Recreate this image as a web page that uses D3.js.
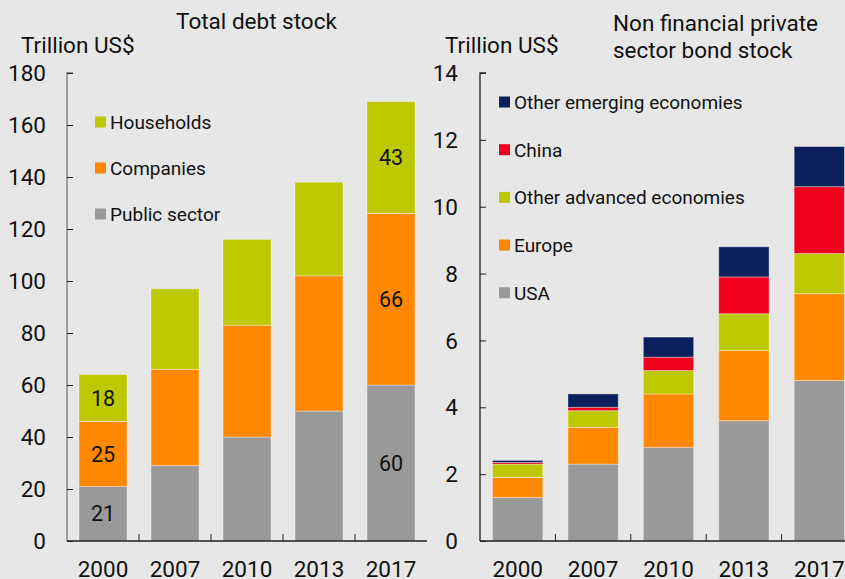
<!DOCTYPE html>
<html>
<head>
<meta charset="utf-8">
<script src="https://cdn.jsdelivr.net/npm/d3@7"></script>
<style>
  html, body { margin: 0; padding: 0; background: #e7e7e7; }
  svg { display: block; font-family: Roboto, "Noto Sans", sans-serif; }
</style>
</head>
<body>
<svg id="chart" width="845" height="579"></svg>
<script>
// ---- data ----
const years = ['2000', '2007', '2010', '2013', '2017'];

// Total debt stock (trillion US$)
const debtKeys = ['Public sector', 'Companies', 'Households'];
const publicSector = [21, 29, 40, 50, 60];
const companies = [25, 37, 43, 52, 66];
const households = [18, 31, 33, 36, 43];
const debtTicks = [0, 20, 40, 60, 80, 100, 120, 140, 160, 180];
const debtLabelled = ['2000', '2017'];

// Non financial private sector bond stock (trillion US$)
const bondKeys = ['USA', 'Europe', 'Other advanced economies', 'China', 'Other emerging economies'];
const usa = [1.3, 2.3, 2.8, 3.6, 4.8];
const europe = [0.6, 1.1, 1.6, 2.1, 2.6];
const otherAdvanced = [0.4, 0.5, 0.7, 1.1, 1.2];
const china = [0.05, 0.1, 0.4, 1.1, 2.0];
const otherEmerging = [0.06, 0.4, 0.6, 0.9, 1.2];
const bondTicks = [0, 2, 4, 6, 8, 10, 12, 14];

const colors = {
  'Public sector': '#999999',
  'USA': '#999999',
  'Companies': '#ff8800',
  'Europe': '#ff8800',
  'Households': '#bec800',
  'Other advanced economies': '#bec800',
  'China': '#f0001c',
  'Other emerging economies': '#0a1f5c'
};

const svg = d3.select('#chart');
const yTop = 73, yBottom = 541;
const tickFont = 22.5;

function drawPanel(opts) {
  const { rows, keys, ticks, max, x0, x1, axisColor, labelRight, legend, labelled } = opts;
  const g = svg.append('g');
  const x = d3.scaleBand().domain(years).range([x0, x1]).paddingInner(1 / 3).paddingOuter(1 / 6);
  const y = d3.scaleLinear().domain([0, max]).range([yBottom, yTop]);
  const series = d3.stack().keys(keys)(rows);

  series.forEach((s) => {
    g.append('g')
      .selectAll('rect')
      .data(s)
      .enter()
      .append('rect')
      .attr('x', (d) => x(d.data.year))
      .attr('y', (d) => y(d[1]))
      .attr('width', x.bandwidth())
      .attr('height', (d) => y(d[0]) - y(d[1]))
      .attr('fill', colors[s.key])
      .attr('stroke', 'rgba(255,255,255,0.35)')
      .attr('stroke-width', 1);

    if (labelled) {
      g.append('g')
        .selectAll('text')
        .data(s.filter((d) => labelled.includes(d.data.year)))
        .enter()
        .append('text')
        .attr('x', (d) => x(d.data.year) + x.bandwidth() / 2)
        .attr('y', (d) => (y(d[0]) + y(d[1])) / 2)
        .attr('dy', '0.36em')
        .attr('text-anchor', 'middle')
        .attr('font-size', 21.5)
        .attr('fill', '#111')
        .text((d) => d3.format('d')(d[1] - d[0]));
    }
  });

  // y axis: line plus inward ticks, labels on the left
  const yAxis = g.append('g').attr('transform', `translate(${x0},0)`)
    .call(d3.axisRight(y).tickValues(ticks).tickSize(6).tickFormat(''));
  yAxis.select('.domain').attr('stroke', axisColor).attr('stroke-width', 1.3).attr('d', `M6,${yTop}H0V${yBottom}`);
  yAxis.selectAll('.tick line').attr('stroke', '#222');
  g.append('g')
    .selectAll('text')
    .data(ticks)
    .enter()
    .append('text')
    .attr('x', labelRight)
    .attr('y', (d) => y(d))
    .attr('dy', '0.36em')
    .attr('text-anchor', 'end')
    .attr('font-size', tickFont)
    .attr('fill', '#111')
    .text((d) => d);

  // x axis: baseline with inward ticks at band boundaries
  g.append('line')
    .attr('x1', x0).attr('x2', x1)
    .attr('y1', yBottom).attr('y2', yBottom)
    .attr('stroke', '#222').attr('stroke-width', 1.3);
  g.append('g')
    .selectAll('line')
    .data(years.slice(1))
    .enter()
    .append('line')
    .attr('x1', (d) => x(d) - x.step() * x.paddingInner() / 2)
    .attr('x2', (d) => x(d) - x.step() * x.paddingInner() / 2)
    .attr('y1', yBottom).attr('y2', yBottom - 7)
    .attr('stroke', '#222');
  g.append('g')
    .selectAll('text')
    .data(years)
    .enter()
    .append('text')
    .attr('x', (d) => x(d) + x.bandwidth() / 2)
    .attr('y', 577)
    .attr('text-anchor', 'middle')
    .attr('font-size', tickFont)
    .attr('fill', '#111')
    .text((d) => d);

  // legend
  const lg = g.append('g');
  legend.items.forEach((key, i) => {
    const cy = legend.y + i * legend.step;
    lg.append('rect')
      .attr('x', legend.x).attr('y', cy - 5.5)
      .attr('width', 11).attr('height', 11)
      .attr('fill', colors[key]);
    lg.append('text')
      .attr('x', legend.x + 15).attr('y', cy)
      .attr('dy', '0.36em')
      .attr('font-size', 19)
      .attr('fill', '#111')
      .text(key);
  });
}

const debtRows = years.map((year, i) => ({
  year,
  'Public sector': publicSector[i],
  'Companies': companies[i],
  'Households': households[i]
}));
const bondRows = years.map((year, i) => ({
  year,
  'USA': usa[i],
  'Europe': europe[i],
  'Other advanced economies': otherAdvanced[i],
  'China': china[i],
  'Other emerging economies': otherEmerging[i]
}));

drawPanel({
  rows: debtRows, keys: debtKeys, ticks: debtTicks, max: 180,
  x0: 67, x1: 427, axisColor: '#777', labelRight: 46,
  labelled: debtLabelled,
  legend: { x: 95, y: 122, step: 46, items: ['Households', 'Companies', 'Public sector'] }
});
drawPanel({
  rows: bondRows, keys: bondKeys, ticks: bondTicks, max: 14,
  x0: 480, x1: 857, axisColor: '#222', labelRight: 458,
  legend: { x: 499, y: 102, step: 47.7, items: ['Other emerging economies', 'China', 'Other advanced economies', 'Europe', 'USA'] }
});

// titles and unit labels
const titleFont = 22.5;
svg.append('text').attr('x', 256.5).attr('y', 29).attr('text-anchor', 'middle')
  .attr('font-size', titleFont).attr('fill', '#111').text('Total debt stock');
svg.append('text').attr('x', 21).attr('y', 53)
  .attr('font-size', titleFont).attr('fill', '#111').text('Trillion US$');
svg.append('text').attr('x', 445).attr('y', 53)
  .attr('font-size', titleFont).attr('fill', '#111').text('Trillion US$');
svg.append('text').attr('x', 613).attr('y', 31)
  .attr('font-size', titleFont).attr('fill', '#111').text('Non financial private');
svg.append('text').attr('x', 613).attr('y', 58)
  .attr('font-size', titleFont).attr('fill', '#111').text('sector bond stock');
</script>
</body>
</html>
